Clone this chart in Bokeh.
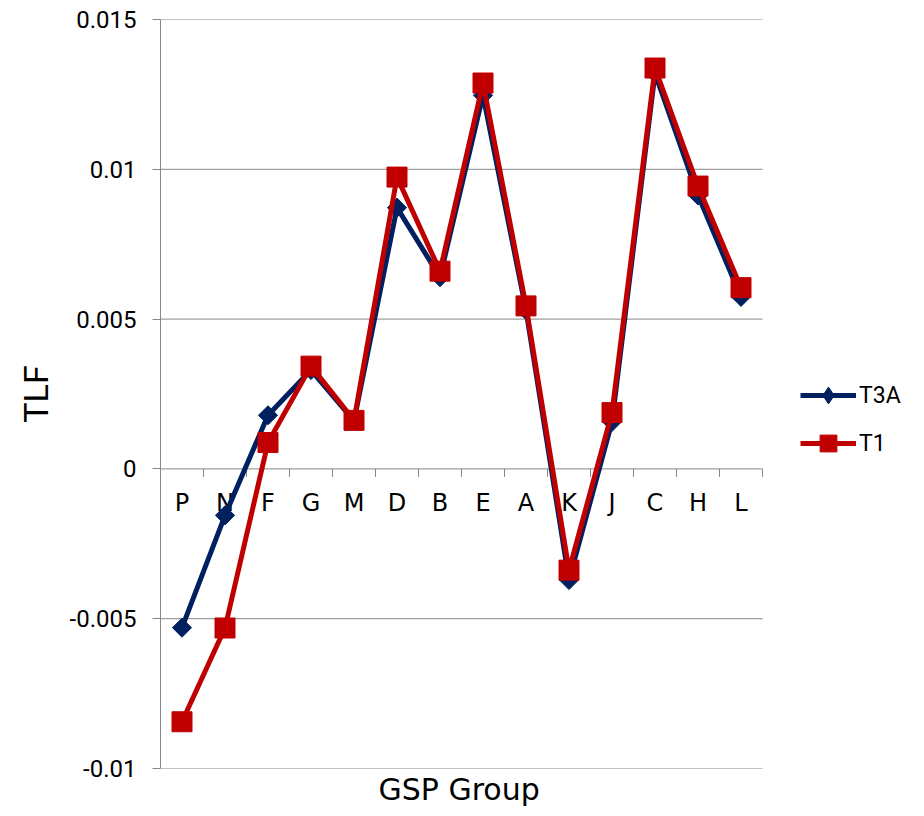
import math
from bokeh.plotting import figure
from bokeh.models import (ColumnDataSource, Range1d, FixedTicker, NumeralTickFormatter,
                          Legend, LegendItem, Title)
from bokeh.core.properties import value
from bokeh.embed import file_html
from bokeh.resources import INLINE

groups = ["P", "N", "F", "G", "M", "D", "B", "E", "A", "K", "J", "C", "H", "L"]
t3a = [-0.0053, -0.00155, 0.00179, 0.0033, 0.0016, 0.00872, 0.0064, 0.01247,
       0.0053, -0.00371, 0.00157, 0.0132, 0.00913, 0.00574]
t1 = [-0.00844, -0.00531, 0.00088, 0.00343, 0.00162, 0.00974, 0.0066, 0.01288,
      0.00544, -0.00338, 0.00188, 0.01338, 0.00944, 0.00605]
y_ticks = [-0.01, -0.005, 0, 0.005, 0.01, 0.015]

NAVY = "#002060"
RED = "#C00000"
GRID = "#868686"

W, H = 924, 816
LEFT, TOP, BOTTOM = 160, 19, 48
PLOT_W = 602  # width of the category area; the legend sits to its right
n = len(groups)
slot = PLOT_W / n

# each group sits in the middle of its slot on the category scale
src = ColumnDataSource(dict(g=groups, x=[i + 0.5 for i in range(n)],
                            edge=[i + 1 for i in range(n)],
                            t3a=t3a, t1=t1, base=[0] * n))
grid = ColumnDataSource(dict(y=y_ticks, x0=[0] * len(y_ticks), x1=[n] * len(y_ticks)))

p = figure(x_range=Range1d(0, (W - LEFT) / slot), y_range=Range1d(-0.01, 0.015),
           width=W, height=H, output_backend="svg", toolbar_location=None,
           min_border_left=LEFT, min_border_right=0, min_border_top=TOP,
           min_border_bottom=BOTTOM)
p.outline_line_color = None
p.grid.visible = False
p.xaxis.visible = False

p.yaxis.ticker = FixedTicker(ticks=y_ticks)
p.yaxis.formatter = NumeralTickFormatter(format="0.[000]")
p.yaxis.axis_line_color = GRID
p.yaxis.major_tick_line_color = GRID
p.yaxis.major_tick_out = 8
p.yaxis.major_tick_in = 0
p.yaxis.minor_tick_line_color = None
p.yaxis.major_label_standoff = 16
p.yaxis.major_label_text_font = "Roboto"
p.yaxis.major_label_text_font_size = "24px"
p.yaxis.major_label_text_color = "black"
p.yaxis.axis_label = "TLF"
p.yaxis.axis_label_text_font = "Roboto"
p.yaxis.axis_label_text_font_style = "normal"
p.yaxis.axis_label_text_font_size = "34px"
p.yaxis.axis_label_text_color = "black"
p.yaxis.axis_label_standoff = 11

p.add_layout(Title(text="GSP Group", align="left", offset=218, text_font="DejaVu Sans",
                   text_font_size="30px", text_font_style="normal",
                   text_color="black", standoff=2), "below")

# horizontal grid lines over the category area only
p.segment(x0="x0", x1="x1", y0="y", y1="y", source=grid, line_color=GRID, line_width=1)

# category ticks on the zero line and the category names under it
p.ray(x="edge", y="base", source=src, length=8, length_units="screen",
      angle=-math.pi / 2, line_color=GRID, line_width=1)
p.text(x="x", y="base", text="g", source=src, text_align="center",
       text_baseline="top", y_offset=20, text_font=value("DejaVu Sans"),
       text_font_size="24px", text_color="black")

l1 = p.line("x", "t3a", source=src, line_color=NAVY, line_width=5)
p.scatter("x", "t3a", source=src, marker="square", angle=math.pi / 4, size=13.5,
          fill_color=NAVY, line_color=NAVY)
l2 = p.line("x", "t1", source=src, line_color=RED, line_width=5)
m2 = p.scatter("x", "t1", source=src, marker="square", size=20,
               fill_color=RED, line_color=RED)
# legend swatch for the diamonds (one empty point, nothing drawn in the plot)
k1 = p.scatter(x=[float("nan")], y=[float("nan")], marker="diamond", size=18,
               fill_color=NAVY, line_color=NAVY)

legend = Legend(items=[LegendItem(label="T3A", renderers=[l1, k1]),
                       LegendItem(label="T1", renderers=[l2, m2])],
                location=(640, 304), orientation="vertical",
                glyph_width=56, glyph_height=42, label_height=42, spacing=6,
                label_standoff=3, padding=0, margin=0,
                label_text_font="Roboto", label_text_font_size="23px",
                label_text_color="black",
                border_line_color=None, background_fill_alpha=0)
p.add_layout(legend, "center")

open("out.html", "w").write(file_html(p, INLINE))
